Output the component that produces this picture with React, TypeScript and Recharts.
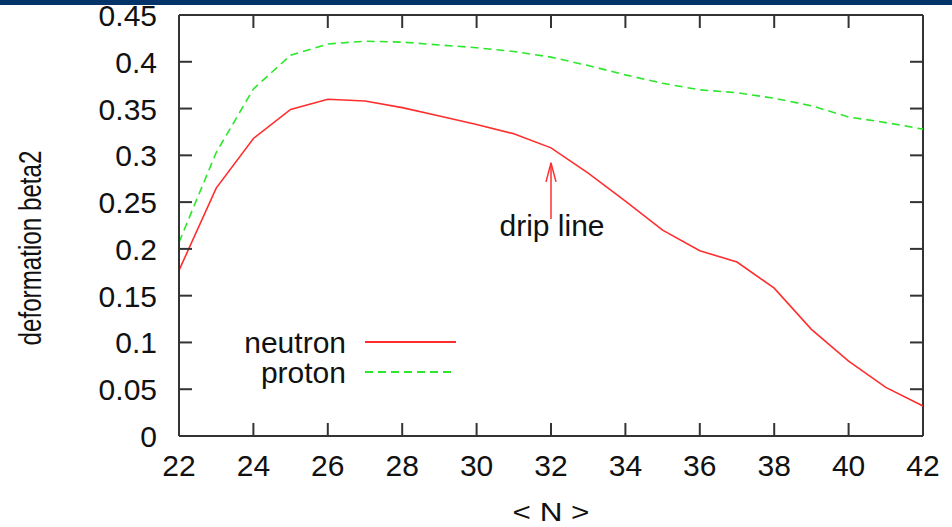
import React from 'react';
import {
  LineChart, Line, XAxis, YAxis, Legend, ReferenceLine, ReferenceDot
} from 'recharts';

// N values along the x axis
const nValues = [22, 23, 24, 25, 26, 27, 28, 29, 30, 31, 32, 33, 34, 35, 36, 37, 38, 39, 40, 41, 42];
const neutronBeta2 = [0.177, 0.265, 0.318, 0.349, 0.360, 0.358, 0.351, 0.342, 0.333, 0.323, 0.308, 0.281, 0.251, 0.220, 0.198, 0.186, 0.158, 0.114, 0.080, 0.052, 0.032];
const protonBeta2 = [0.207, 0.303, 0.371, 0.407, 0.419, 0.422, 0.421, 0.418, 0.415, 0.411, 0.405, 0.396, 0.386, 0.377, 0.370, 0.367, 0.361, 0.353, 0.341, 0.335, 0.328];

const xTicks = [22, 24, 26, 28, 30, 32, 34, 36, 38, 40, 42];
const yTicks = [0, 0.05, 0.1, 0.15, 0.2, 0.25, 0.3, 0.35, 0.4, 0.45];
const xDomain = [22, 42];
const yDomain = [0, 0.45];

// annotation: arrow pointing at the drip line
const dripN = 32;
const dripTip = 0.292;
const dripTail = 0.232;
const dripLabelY = 0.214;

const data = nValues.map((n, i) => ({ n, neutron: neutronBeta2[i], proton: protonBeta2[i] }));

const FONT = '"Liberation Sans", Arial, Helvetica, sans-serif';
const FRAME = '#333333';
const RED = '#ff2e2e';
const GREEN = '#2be82b';
const TICK_LEN = 13;

const frameLine = { stroke: FRAME, strokeWidth: 2 };

const BottomTick = ({ x, y, payload }: any) => (
  <text x={x} y={y + 40} textAnchor="middle" fontSize={30} fontFamily={FONT} fill="#111">
    {payload.value}
  </text>
);

const LeftTick = ({ x, y, payload }: any) => (
  <text x={x - 22} y={y + 11} textAnchor="end" fontSize={30} fontFamily={FONT} fill="#111">
    {String(Number(payload.value.toFixed(2)))}
  </text>
);

// inward tick marks, gnuplot style (all four sides)
const tickMark = (dx: number, dy: number) => ({ cx, cy }: any) => (
  <line x1={cx} y1={cy} x2={cx + dx} y2={cy + dy} stroke={FRAME} strokeWidth={2} />
);
const upTick = tickMark(0, -TICK_LEN);
const downTick = tickMark(0, TICK_LEN);
const rightTick = tickMark(TICK_LEN, 0);
const leftTick = tickMark(-TICK_LEN, 0);

const legendItems = [
  { key: 'neutron', dash: undefined },
  { key: 'proton', dash: '8 5' },
];

const LegendBox = ({ payload }: any) => (
  <svg width={250} height={65}>
    {(payload || []).map((entry: any, i: number) => {
      const item = legendItems.find((it) => it.key === entry.value);
      const base = 28 + i * 30;
      return (
        <g key={entry.value}>
          <text x={126} y={base} textAnchor="end" fontSize={30} fontFamily={FONT} fill="#111">
            {entry.value}
          </text>
          <line x1={145} y1={base - 11} x2={236} y2={base - 11} stroke={entry.color} strokeWidth={1.8} strokeDasharray={item?.dash} />
        </g>
      );
    })}
  </svg>
);

const ArrowHead = ({ cx, cy }: any) => (
  <g>
    <line x1={cx} y1={cy} x2={cx - 5} y2={cy + 19} stroke={RED} strokeWidth={1.5} />
    <line x1={cx} y1={cy} x2={cx + 5} y2={cy + 19} stroke={RED} strokeWidth={1.5} />
  </g>
);

const DripLabel = ({ cx, cy }: any) => (
  <text x={cx + 1} y={cy} textAnchor="middle" fontSize={30} fontFamily={FONT} fill="#111">
    drip line
  </text>
);

export default function App() {
  return (
    <div style={{ position: 'absolute', left: 0, top: 0, width: 952, height: 527, background: '#fff' }}>
      <div style={{ position: 'absolute', left: 0, top: 0, width: 952, height: 5, background: '#02346a' }} />
      <LineChart width={952} height={527} data={data} margin={{ top: 15, right: 29, bottom: 0, left: 0 }}>
        <XAxis
          dataKey="n" type="number" domain={xDomain} ticks={xTicks} height={91}
          tickSize={0} tickMargin={0} tickLine={false} tick={BottomTick}
          axisLine={frameLine}
          label={{
            content: () => (
              <text x={551} y={521} textAnchor="middle" fontSize={25} fontFamily={FONT} fill="#111" textLength={77} lengthAdjust="spacingAndGlyphs">
                {'< N >'}
              </text>
            ),
          }}
        />
        <YAxis
          type="number" domain={yDomain} ticks={yTicks} width={179}
          tickSize={0} tickMargin={0} tickLine={false} tick={LeftTick}
          axisLine={frameLine}
          label={{
            content: () => (
              <text transform="translate(41,248) rotate(-90)" textAnchor="middle" fontSize={31} fontFamily={FONT} fill="#111" textLength={195} lengthAdjust="spacingAndGlyphs">
                deformation beta2
              </text>
            ),
          }}
        />
        <Legend
          layout="horizontal" verticalAlign="middle" align="center"
          wrapperStyle={{ top: 325, left: 220, width: 250, height: 65 }}
          content={<LegendBox />}
        />
        {/* top and right edges of the frame */}
        <ReferenceLine y={yDomain[1]} stroke={FRAME} strokeWidth={2} />
        <ReferenceLine x={xDomain[1]} stroke={FRAME} strokeWidth={2} />
        {xTicks.map((t) => (
          <ReferenceDot key={`xb${t}`} x={t} y={yDomain[0]} shape={upTick} />
        ))}
        {xTicks.map((t) => (
          <ReferenceDot key={`xt${t}`} x={t} y={yDomain[1]} shape={downTick} />
        ))}
        {yTicks.map((t) => (
          <ReferenceDot key={`yl${t}`} x={xDomain[0]} y={t} shape={rightTick} />
        ))}
        {yTicks.map((t) => (
          <ReferenceDot key={`yr${t}`} x={xDomain[1]} y={t} shape={leftTick} />
        ))}
        <Line type="linear" dataKey="neutron" name="neutron" stroke={RED} strokeWidth={1.6} dot={false} isAnimationActive={false} />
        <Line type="linear" dataKey="proton" name="proton" stroke={GREEN} strokeWidth={1.6} strokeDasharray="8 5" dot={false} isAnimationActive={false} />
        <ReferenceLine segment={[{ x: dripN, y: dripTail }, { x: dripN, y: dripTip }]} stroke={RED} strokeWidth={1.5} />
        <ReferenceDot x={dripN} y={dripTip} shape={ArrowHead} />
        <ReferenceDot x={dripN} y={dripLabelY} shape={DripLabel} />
      </LineChart>
    </div>
  );
}
